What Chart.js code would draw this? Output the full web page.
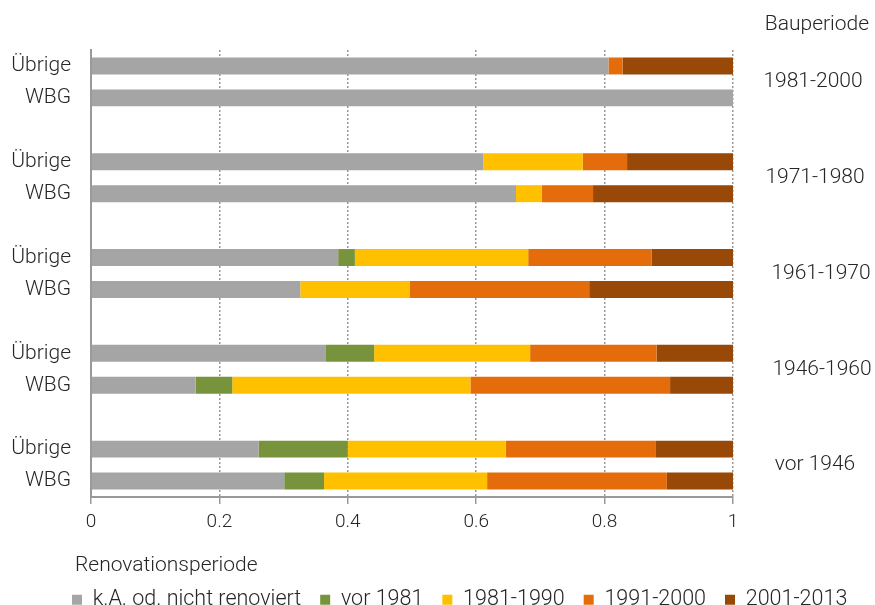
<!DOCTYPE html>
<html>
<head>
<meta charset="utf-8">
<script src="https://cdn.jsdelivr.net/npm/chart.js@4/dist/chart.umd.min.js"></script>
<style>
html,body{margin:0;padding:0;background:#fff;}
#wrap{width:875px;height:605px;}
</style>
</head>
<body>
<div id="wrap"><canvas id="c" width="875" height="605"></canvas></div>
<script>
// Categories (top to bottom); empty strings are the gaps between building periods
const categories = ['Übrige','WBG','', 'Übrige','WBG','', 'Übrige','WBG','', 'Übrige','WBG','', 'Übrige','WBG'];
const bauperioden = ['1981-2000','1971-1980','1961-1970','1946-1960','vor 1946'];
const seriesNames = ['k.A. od. nicht renoviert','vor 1981','1981-1990','1991-2000','2001-2013'];
const tickLabels = ['0','0.2','0.4','0.6','0.8','1'];

const kaNichtRenoviert = [0.806, 1.000, null, 0.611, 0.662, null, 0.385, 0.326, null, 0.365, 0.163, null, 0.261, 0.301];
const vor1981          = [0.000, 0.000, null, 0.000, 0.000, null, 0.026, 0.000, null, 0.076, 0.057, null, 0.139, 0.062];
const r1981_1990       = [0.000, 0.000, null, 0.155, 0.040, null, 0.270, 0.170, null, 0.243, 0.371, null, 0.246, 0.254];
const r1991_2000       = [0.022, 0.000, null, 0.069, 0.080, null, 0.192, 0.280, null, 0.197, 0.311, null, 0.234, 0.280];
const r2001_2013       = [0.172, 0.000, null, 0.165, 0.218, null, 0.127, 0.224, null, 0.119, 0.098, null, 0.120, 0.103];

const colors = ['#A5A5A5','#77933C','#FFC000','#E46C0A','#984807'];
const seriesValues = [kaNichtRenoviert, vor1981, r1981_1990, r1991_2000, r2001_2013];

const FAMILY = "Roboto, sans-serif";
const TXT = '#262626';

const extraText = {
  id: 'extraText',
  afterLayout(chart) {
    // place the legend row like the original (left-aligned under the axis labels)
    const lg = chart.legend;
    if (lg) {
      const h = lg.height;
      lg.left = 53;
      lg.right = 875;
      lg.top = 570;
      lg.bottom = 570 + h;
    }
  },
  afterDraw(chart) {
    const ctx = chart.ctx;
    const y = chart.scales.y;
    ctx.save();
    ctx.fillStyle = TXT;
    ctx.font = "300 21px " + FAMILY;
    ctx.textBaseline = 'middle';
    ctx.textAlign = 'left';
    ctx.fillText('Renovationsperiode', 75, 566);
    ctx.textAlign = 'center';
    ctx.fillText('Bauperiode', 817, 25);
    const xs = [813, 815, 821, 822, 815];
    bauperioden.forEach((p, i) => {
      const yc = (y.getPixelForValue(i * 3) + y.getPixelForValue(i * 3 + 1)) / 2;
      ctx.fillText(p, xs[i], yc);
    });
    ctx.restore();
  }
};

new Chart(document.getElementById('c'), {
  type: 'bar',
  data: {
    labels: categories,
    datasets: seriesNames.map((n, i) => ({
      label: n,
      data: seriesValues[i],
      backgroundColor: colors[i],
      borderWidth: 0,
      barPercentage: 17 / 32,
      categoryPercentage: 1
    }))
  },
  options: {
    indexAxis: 'y',
    responsive: false,
    animation: false,
    layout: { padding: { left: 0, right: 0, top: 50, bottom: 0 } },
    scales: {
      x: {
        stacked: true,
        min: 0, max: 1,
        afterFit: (s) => { s.height = 605 - 497 - (s.chart.legend ? s.chart.legend.height : 0); },
        ticks: {
          stepSize: 0.2,
          color: TXT,
          font: { family: FAMILY, size: 19, weight: '300' },
          padding: 7,
          callback: (v, i) => tickLabels[i]
        },
        grid: {
          color: (c) => c.index === 0 ? 'rgba(0,0,0,0)' : '#999999',
          lineWidth: 1.5,
          tickBorderDash: [],
          tickColor: '#999999',
          tickWidth: 1.5,
          tickLength: 7,
          drawTicks: true
        },
        border: { display: true, color: '#999999', width: 2, dash: [2, 2] }
      },
      y: {
        stacked: true,
        afterFit: (s) => { s.width = 91; },
        ticks: {
          color: TXT,
          font: { family: FAMILY, size: 21, weight: '300' },
          padding: 20,
          autoSkip: false
        },
        grid: { display: false, drawTicks: false },
        border: { display: true, color: '#999999', width: 2 }
      },
      yRight: {
        type: 'linear',
        position: 'right',
        display: true,
        afterFit: (s) => { s.width = 142; },
        ticks: { display: false },
        grid: { display: false, drawTicks: false },
        border: { display: false }
      }
    },
    plugins: {
      tooltip: { enabled: false },
      legend: {
        position: 'bottom',
        align: 'start',
        labels: {
          color: TXT,
          font: { family: FAMILY, size: 21.5, weight: '300' },
          boxWidth: 10,
          boxHeight: 10,
          padding: 19
        }
      }
    }
  },
  plugins: [extraText]
});
</script>
</body>
</html>
